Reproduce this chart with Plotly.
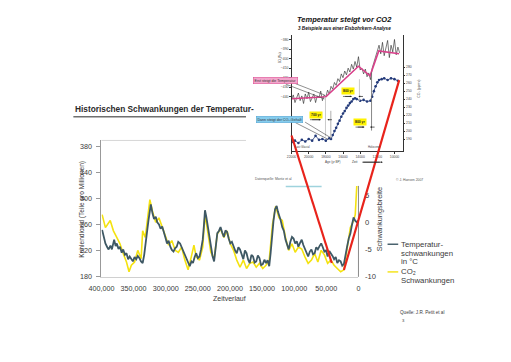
import plotly.graph_objects as go

# page has an 8px body margin: figure is drawn 16px smaller and offset by 8px
PAGE_W, PAGE_H, OFF = 511, 362, 8
W, H = PAGE_W - 2 * OFF, PAGE_H - 2 * OFF

# ---------------- main chart data ----------------
temp_years = [399000, 396500, 393900, 391000, 388900, 386000, 383800, 380300, 378000, 376200,
              373500, 371200, 368500, 366200, 363500, 361100, 358500, 356100, 353500, 351100,
              348500, 345900, 343500, 340900, 338500, 335900, 333500, 330800, 328800, 326800,
              325000, 323200, 320500, 318200, 315500, 313200, 310500, 308000, 305500, 303000,
              300500, 298000, 295500, 292900, 290500, 287900, 285500, 282900, 280500, 277700,
              275200, 272700, 270200, 267700, 265000, 262600, 260000, 257600, 255000, 252600,
              250000, 247400, 245000, 242400, 240500, 238900, 236800, 234800, 232300, 229800,
              227200, 224700, 222200, 219700, 217200, 214700, 212100, 209500, 207000, 204500,
              202000, 199500, 197000, 194400, 191900, 189400, 186900, 184400, 181800, 179200,
              176700, 174200, 171700, 169200, 166600, 164100, 161600, 159100, 156600, 154100,
              151500, 148900, 146400, 143900, 141400, 138900, 136800, 134800, 132300, 129800,
              127300, 125500, 123800, 121200, 118600, 116100, 113600, 111100, 108600, 106000,
              103500, 101000, 98500, 96000, 93500, 90900, 88300, 85800, 83300, 80800,
              78300, 75700, 73200, 70700, 68200, 65700, 63200, 60600, 58000, 55500,
              53000, 50500, 48000, 45400, 42900, 40400, 37900, 35400, 32900, 30300,
              27700, 25200, 22700, 20200, 17700, 15100, 12600, 10100, 7600, 5100, 2600, 0]
temp_vals = [-1.4, -2.6, -3.9, -4.6, -5.0, -4.3, -5.0, -3.2, -4.4, -3.9,
             -4.9, -4.5, -5.6, -5.0, -6.0, -5.7, -6.8, -6.3, -6.9, -7.2,
             -6.4, -6.8, -6.2, -6.6, -7.2, -7.5, -6.0, -3.9, -1.5, 0.4,
             2.2, 3.3, 1.6, 0.6, 1.0, 0.0, -0.4, -1.2, -0.8, -2.1,
             -2.8, -3.9, -3.4, -4.5, -5.1, -5.4, -4.8, -4.5, -3.6, -3.9,
             -4.6, -5.4, -6.1, -6.8, -7.6, -8.1, -7.2, -7.5, -6.4, -5.7,
             -6.6, -6.3, -5.0, -3.2, -0.5, 2.2, 1.0, -0.5, -2.8, -5.0,
             -6.2, -7.2, -5.0, -2.0, -1.6, -0.9, -1.9, -2.7, -1.5, -1.8,
             -3.0, -3.9, -3.6, -4.5, -5.2, -5.7, -4.6, -5.0, -6.1, -6.8,
             -5.2, -5.7, -6.9, -7.5, -6.0, -6.3, -7.4, -7.2, -6.1, -6.6,
             -7.9, -7.7, -6.9, -7.5, -7.0, -8.1, -5.8, -2.7, 0.2, 2.4,
             3.0, 2.0, 1.5, 0.4, -0.9, -1.6, -3.2, -4.0, -5.0, -3.6,
             -2.7, -3.0, -3.9, -3.5, -4.5, -3.8, -3.2, -4.2, -5.0, -5.5,
             -6.3, -5.4, -5.0, -5.9, -5.7, -4.6, -5.0, -4.4, -3.9, -4.6,
             -5.4, -5.2, -6.3, -5.3, -5.7, -6.2, -6.8, -6.4, -7.5, -7.0,
             -7.2, -8.0, -7.7, -6.4, -4.5, -3.0, -2.1, -0.5, 0.9, 0.3, 0.0, 0.3]

co2_years = [399000, 393900, 386400, 381400, 376200, 371200, 366200, 361100, 357100, 353500,
             348500, 343500, 338300, 335900, 331800, 328300, 324700, 320800, 315600, 310600,
             305600, 300500, 295500, 290500, 285300, 280300, 275300, 270200, 265200, 260200,
             256100, 252600, 247400, 242400, 238900, 234800, 229800, 224700, 219700, 214700,
             209500, 204500, 199500, 194400, 189400, 184400, 179200, 174200, 169200, 164100,
             159100, 154100, 148900, 143900, 138900, 133800, 128800, 123800, 118600, 113600,
             108600, 103500, 98500, 93500, 88300, 83300, 78300, 73200, 68200, 63200,
             58000, 53000, 48000, 42900, 37900, 32900, 27700, 22700, 17700, 12600,
             10200, 7600, 5000, 3800, 2600]
co2_vals = [275, 255, 266, 250, 240, 230, 215, 202, 187, 197,
            202, 220, 207, 250, 240, 270, 298, 281, 263, 270,
            255, 240, 228, 235, 220, 217, 225, 205, 190, 210,
            228, 210, 205, 225, 275, 250, 217, 207, 245, 253,
            240, 250, 230, 220, 205, 194, 205, 192, 200, 202,
            194, 200, 192, 197, 205, 260, 288, 270, 266, 240,
            220, 230, 217, 225, 222, 210, 200, 205, 215, 202,
            220, 213, 200, 205, 197, 192, 187, 190, 225, 255,
            260, 266, 275, 306, 319]

x_ticks = [400000, 350000, 300000, 250000, 200000, 150000, 100000, 50000, 0]
x_tick_labels = ["400,000", "350,000", "300,000", "250,000", "200,000",
                 "150,000", "100,000", "50,000", "0"]
co2_ticks = [180, 220, 260, 300, 340, 380]
temp_ticks = [5, 0, -5, -10]
temp_tick_labels = ["5", "0", "-5", "-10"]

# ---------------- inset data (ice core, 22-9 kyr BP) ----------------
ins_d_years = [22000, 21800, 21600, 21400, 21200, 21000, 20800, 20600, 20400, 20200,
               20000, 19800, 19600, 19400, 19200, 19000, 18800, 18600, 18400, 18200,
               18000, 17800, 17600, 17400, 17200, 17000, 16800, 16600, 16400, 16200,
               16000, 15800, 15600, 15400, 15200, 15000, 14800, 14600, 14400, 14200,
               14000, 13800, 13600, 13400, 13200, 13000, 12800, 12600, 12400, 12200,
               12000, 11800, 11600, 11400, 11200, 11000, 10800, 10600, 10400, 10200,
               10000, 9800, 9600, 9400]
ins_d_vals = [-443, -438, -446, -440, -436, -444, -439, -447, -437, -442,
              -435, -445, -440, -437, -446, -439, -441, -434, -444, -438,
              -440, -433, -437, -429, -432, -425, -428, -421, -424, -416,
              -420, -413, -417, -410, -414, -406, -411, -403, -409, -398,
              -412, -410, -416, -411, -419, -415, -422, -410, -404, -398,
              -393, -386, -395, -383, -397, -388, -381, -399, -386, -393,
              -380, -396, -388, -394]
ins_trend_years = [22000, 18000, 14200, 12850, 11830, 9460]
ins_trend_vals = [-442, -440, -408, -418, -392, -395]
ins_co2_years = [22000, 21600, 21200, 20800, 20400, 20000, 19600, 19200, 18800, 18400,
                 18000, 17600, 17400, 17200, 17000, 16800, 16600, 16400, 16200, 16000,
                 15800, 15600, 15400, 15200, 15000, 14800, 14600, 14400, 14000, 13600,
                 13200, 12800, 12600, 12400, 12200, 12000, 11800, 11500, 11200, 10800,
                 10400, 10000, 9600]
ins_co2_vals = [186, 188, 185, 189, 187, 190, 188, 194, 189, 190,
                188, 191, 190, 195, 200, 204, 209, 213, 218, 222,
                225, 229, 232, 235, 237, 240, 241, 240, 238, 239,
                237, 238, 243, 250, 256, 261, 264, 265, 266, 264,
                266, 265, 263]
ins_x_ticks = [22000, 20000, 18000, 16000, 14000, 12000, 10000]
ins_d_ticks = [-380, -390, -400, -410, -420, -430, -440]
ins_co2_ticks = [190, 200, 210, 220, 230, 240, 250, 260, 270, 280]

# ---------------- colours ----------------
TEMP_C = "#3e5864"
CO2_C = "#f4e210"
RED = "#e8231b"
TXT = "#3a3a3a"
FONT = "Liberation Sans, Arial, sans-serif"


def PX(x):
    return (x - OFF) / W


def PY(y):
    return 1 - (y - OFF) / H


fig = go.Figure()
fig.add_trace(go.Scatter(x=co2_years, y=co2_vals, mode="lines", xaxis="x", yaxis="y",
                         line=dict(color=CO2_C, width=1.6), showlegend=False))
fig.add_trace(go.Scatter(x=temp_years, y=temp_vals, mode="lines", xaxis="x", yaxis="y2",
                         line=dict(color=TEMP_C, width=1.8), showlegend=False))
fig.add_trace(go.Scatter(x=ins_d_years, y=ins_d_vals, mode="lines", xaxis="x2", yaxis="y3",
                         line=dict(color="#222222", width=0.6), showlegend=False))
fig.add_trace(go.Scatter(x=ins_trend_years, y=ins_trend_vals, mode="lines", xaxis="x2", yaxis="y3",
                         line=dict(color="#d8408a", width=1.6), showlegend=False))
fig.add_trace(go.Scatter(x=ins_co2_years, y=ins_co2_vals, mode="lines+markers", xaxis="x2", yaxis="y4",
                         line=dict(color="#233a7a", width=0.8),
                         marker=dict(color="#233a7a", size=2.6), showlegend=False))

shapes = []


def seg(x0, y0, x1, y1, color, width, dash="solid"):
    shapes.append(dict(type="line", xref="paper", yref="paper", x0=PX(x0), y0=PY(y0),
                       x1=PX(x1), y1=PY(y1), line=dict(color=color, width=width, dash=dash),
                       layer="above"))


# main chart decorations
seg(62, 118, 240, 118, "#6f6f6f", 1.4)          # title underline
seg(91, 142, 240, 142, "#d6d6d6", 1)            # top frame (faded)
seg(356, 188, 356, 280, "#8a8a8a", 1)           # right axis line
seg(281, 188.5, 318, 188.5, "#9fd3dd", 1.5)     # cyan line
# legend samples
seg(386, 247, 397, 247, TEMP_C, 1.4)
seg(386, 275, 397, 275, CO2_C, 1.4)
# inset guides / pointers
seg(322, 98, 322, 138, "#bdbdbd", 0.8)
seg(327.5, 112, 327.5, 140, "#9a9a9a", 0.8)
seg(357, 80, 357, 102, "#bdbdbd", 0.8)
seg(369.5, 73, 369.5, 132, "#6a6a6a", 0.8)
seg(291, 84.5, 321, 96, "#444444", 0.6)
seg(281, 85, 321, 100, "#444444", 0.6)
seg(301, 123.5, 327, 139, "#444444", 0.6)
seg(291, 124, 325, 141, "#444444", 0.6)
# lag arrows
seg(340, 97.5, 349, 97.5, "#222222", 0.6)
seg(306, 121, 317, 121, "#222222", 0.6)
seg(353, 128.5, 362, 128.5, "#222222", 0.6)
# red connecting lines
seg(287, 137, 328.5, 266, RED, 2.2)
seg(398, 81, 341, 273, RED, 2.2)
# bottom arrow "Zeit"
seg(360, 164, 378, 164, "#333333", 0.8)

ann = []


def text(x, y, s, size, color=TXT, xanchor="left", bold=False, italic=False,
         angle=0, bg=None, border=None):
    if bold:
        s = "<b>" + s + "</b>"
    if italic:
        s = "<i>" + s + "</i>"
    d = dict(x=PX(x), y=PY(y), xref="paper", yref="paper", text=s, showarrow=False,
             xanchor=xanchor, yanchor="middle", textangle=angle,
             font=dict(family=FONT, size=size, color=color))
    if bg:
        d["bgcolor"] = bg
        d["borderpad"] = 1
    if border:
        d["bordercolor"] = border
        d["borderwidth"] = 0.5
    ann.append(d)


def arrow_head(x_tip, y, x_tail):
    ann.append(dict(x=PX(x_tip), y=PY(y), ax=x_tail - x_tip, ay=0, xref="paper", yref="paper",
                    axref="pixel", ayref="pixel", text="", showarrow=True, arrowhead=2,
                    arrowsize=0.5, arrowwidth=0.7, arrowcolor="#222222"))


text(62, 110, "Historischen Schwankungen der Temperatur-", 8.3, color="#2a2a2a", bold=True)
text(71, 212, "Kohlendioxid (Teile pro Millionen)", 6.6, xanchor="center", angle=-90)
text(223.5, 302, "Zeitverlauf", 7, xanchor="center")
text(378, 221, "Schwankungsbreite", 7.4, xanchor="center", angle=-90)
text(398, 247, "Temperatur-", 7.8)
text(398, 256, "schwankungen", 7.8)
text(398, 264.5, "in °C", 7.8)
text(398, 275, "CO₂", 7.8)
text(398, 284, "Schwankungen", 7.8)
text(397, 316, "Quelle: J.R. Petit et al", 4.6)
text(399, 324, "3", 4.2)
text(247, 180.5, "Datenquelle: Moritz et al", 3.4, color="#555555")
text(393, 182, "© J. Hansen 2007", 3.4, color="#555555")

# inset texts
text(341.5, 20, "Temperatur steigt vor CO2", 7.5, color="#111111", xanchor="center", bold=True, italic=True)
text(341.5, 29, "3 Beispiele aus einer Eisbohrkern-Analyse", 4.6, color="#111111", xanchor="center",
     bold=True, italic=True)
text(270, 81.5, "Erst steigt die Temperatur", 3.6, color="#333333", xanchor="center",
     bg="#f3a6cc", border="#d8408a")
text(275, 121, "Dann steigt der CO₂-Gehalt", 3.6, color="#333333", xanchor="center",
     bg="#86cdee", border="#4a9fd0")
text(345, 91.5, "800 yr", 3.4, color="#222222", xanchor="center", bold=True, bg="#fff200")
text(312, 116, "700 yr", 3.4, color="#222222", xanchor="center", bold=True, bg="#fff200")
text(358, 123.5, "800 yr", 3.4, color="#222222", xanchor="center", bold=True, bg="#fff200")
text(289, 149, "Last Glacial", 2.8, color="#444444")
text(364, 149, "Holocene", 2.8, color="#444444")
text(330, 163.5, "Age (yr BP)", 3, color="#444444", xanchor="center")
text(352, 163.5, "Zeit", 3.2, color="#333333", xanchor="center")
text(276, 58, "δD (‰)", 3.4, color="#444444", xanchor="center", angle=-90)
text(418, 90, "CO₂ (ppmv)", 3.4, color="#444444", xanchor="center", angle=-90)

arrow_head(349, 97.5, 341)
arrow_head(356, 97.5, 362)
arrow_head(317, 121, 307)
arrow_head(324, 121, 330)
arrow_head(362, 128.5, 354)
arrow_head(368, 128.5, 374)
arrow_head(381, 164, 360)

small = dict(family=FONT, size=3.4, color="#444444")
fig.update_layout(
    width=W, height=H,
    margin=dict(l=0, r=0, t=0, b=0),
    paper_bgcolor="white", plot_bgcolor="rgba(0,0,0,0)",
    font=dict(family=FONT, color=TXT),
    showlegend=False,
    xaxis=dict(domain=[PX(91), PX(356)], range=[400000, 0], anchor="y",
               tickvals=x_ticks, ticktext=x_tick_labels, ticks="", showline=True,
               linecolor="#d0d0d0", linewidth=1, showgrid=False, zeroline=False,
               ticklabelstandoff=5,
               tickfont=dict(family=FONT, size=7.2, color=TXT)),
    yaxis=dict(domain=[PY(280), PY(142)], range=[179.2, 389.1], anchor="x",
               tickvals=co2_ticks, ticks="outside", ticklen=4, tickcolor="#999999",
               showline=True, linecolor="#999999", linewidth=1, showgrid=False,
               ticklabelstandoff=3,
               zeroline=False, tickfont=dict(family=FONT, size=7.2, color=TXT)),
    yaxis2=dict(overlaying="y", side="right", anchor="x", range=[-10.05, 15.05],
                tickvals=temp_ticks, ticktext=temp_tick_labels, ticks="outside",
                ticklen=4, tickcolor="rgba(0,0,0,0)", showline=False, showgrid=False,
                zeroline=False, tickfont=dict(family=FONT, size=7.6, color=TXT)),
    xaxis2=dict(domain=[PX(287), PX(402)], range=[22000, 9000], anchor="y3",
                tickvals=ins_x_ticks, ticks="outside", ticklen=1.5, tickcolor="#333333",
                showline=True, linecolor="#333333", linewidth=0.7, showgrid=False,
                zeroline=False, tickfont=small, tickformat="d"),
    yaxis3=dict(domain=[PY(153), PY(35)], range=[-497, -375], anchor="x2",
                tickvals=ins_d_ticks, ticks="outside", ticklen=1.5, tickcolor="#333333",
                showline=True, linecolor="#333333", linewidth=0.7, showgrid=False,
                zeroline=False, tickfont=small),
    yaxis4=dict(overlaying="y3", side="right", anchor="x2", range=[174.6, 320.7],
                tickvals=ins_co2_ticks, ticks="outside", ticklen=1.5, tickcolor="#333333",
                showline=True, linecolor="#333333", linewidth=0.7, showgrid=False,
                zeroline=False, tickfont=small),
    shapes=shapes,
    annotations=ann,
)

fig.write_html("out.html")
